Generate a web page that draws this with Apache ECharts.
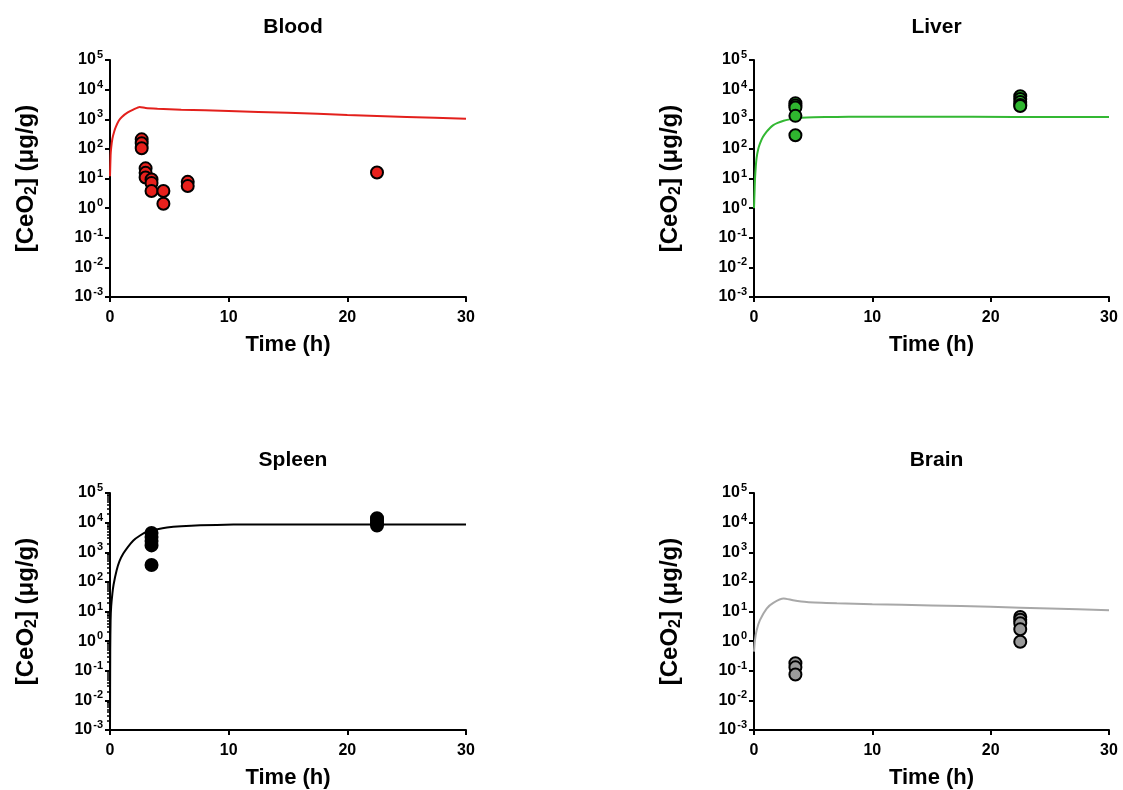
<!DOCTYPE html>
<html>
<head>
<meta charset="utf-8">
<script src="https://cdn.jsdelivr.net/npm/echarts@6/dist/echarts.min.js"></script>
<style>
html,body{margin:0;padding:0;background:#fff;}
#chart{width:1123px;height:790px;}
</style>
</head>
<body>
<div id="chart"></div>
<script>
// ---- Data ----
const panelTitles = ['Blood', 'Liver', 'Spleen', 'Brain'];
const xTicks = [0, 10, 20, 30];

// Model curves (time h, concentration µg/g)
const bloodLineT = [0, 0.05, 0.1, 0.2, 0.35, 0.5, 0.75, 1.0, 1.5, 2.0, 2.5, 3.0, 4.0, 6, 10, 15, 20, 25, 30];
const bloodLineV = [12, 60, 110, 220, 380, 560, 900, 1200, 1700, 2150, 2600, 2380, 2250, 2100, 1900, 1650, 1400, 1200, 1030];

const liverLineT = [0, 0.04, 0.08, 0.15, 0.22, 0.35, 0.5, 0.75, 1.07, 1.35, 1.63, 2.0, 2.5, 3.0, 3.5, 4.45, 6, 8, 15, 22, 30];
const liverLineV = [1, 3, 9, 25, 50, 95, 150, 250, 380, 510, 630, 750, 890, 990, 1070, 1150, 1190, 1210, 1210, 1200, 1190];

const spleenLineT = [0, 0.02, 0.05, 0.1, 0.2, 0.3, 0.56, 0.8, 1.12, 1.5, 1.97, 2.5, 3.1, 4.0, 4.8, 6, 7.6, 10.4, 15, 22, 30];
const spleenLineV = [0.001, 0.5, 5, 15, 40, 80, 245, 500, 900, 1500, 2500, 3600, 4900, 6000, 6800, 7500, 8100, 8600, 8700, 8650, 8600];

const brainLineT = [0, 0.08, 0.22, 0.5, 1.07, 1.63, 2.5, 3.3, 4.45, 7, 10, 15, 20, 25, 30];
const brainLineV = [0.44, 1.07, 2.3, 5.1, 12.6, 19.6, 27.5, 24, 21, 19, 17.6, 16, 14.4, 12.6, 11];

// Measured data (time h, concentration µg/g)
const bloodPtT = [2.67, 2.67, 2.67, 3.0, 3.0, 3.0, 3.5, 3.5, 3.5, 4.5, 4.5, 6.55, 6.55, 22.5];
const bloodPtV = [210, 155, 105, 22, 15.5, 10.8, 9.3, 7.1, 3.8, 3.8, 1.4, 7.7, 5.6, 16];

const liverPtT = [3.5, 3.5, 3.5, 3.5, 3.5, 22.5, 22.5, 22.5, 22.5, 22.5];
const liverPtV = [3500, 2900, 2500, 1300, 290, 6000, 4800, 3800, 3000, 2800];

const spleenPtT = [3.5, 3.5, 3.5, 3.5, 3.5, 22.5, 22.5, 22.5, 22.5];
const spleenPtV = [4500, 3300, 2400, 1700, 370, 14000, 12000, 9500, 8000];

const brainPtT = [3.5, 3.5, 3.5, 22.5, 22.5, 22.5, 22.5, 22.5];
const brainPtV = [0.18, 0.13, 0.075, 6.5, 5.3, 4.0, 2.5, 0.95];

// ---- Build ----
const zip = (a, b) => a.map((v, i) => [v, b[i]]);
const FONT = '"Liberation Sans", Arial, sans-serif';

const panels = [
  {title: panelTitles[0], lt: bloodLineT, lv: bloodLineV, pt: bloodPtT, pv: bloodPtV, line: '#e3201c', fill: '#e8201c', grid: {left: 110, top: 60, width: 356, height: 237}, minor: false},
  {title: panelTitles[1], lt: liverLineT, lv: liverLineV, pt: liverPtT, pv: liverPtV, line: '#33b833', fill: '#2fb52f', grid: {left: 754, top: 60, width: 355, height: 237}, minor: false},
  {title: panelTitles[2], lt: spleenLineT, lv: spleenLineV, pt: spleenPtT, pv: spleenPtV, line: '#000000', fill: '#000000', grid: {left: 110, top: 493, width: 356, height: 237}, minor: true},
  {title: panelTitles[3], lt: brainLineT, lv: brainLineV, pt: brainPtT, pv: brainPtV, line: '#a8a8a8', fill: '#9a9a9a', grid: {left: 754, top: 493, width: 355, height: 237}, minor: false}
];

const option = {
  animation: false,
  backgroundColor: '#fff',
  title: panels.map(p => ({
    text: p.title,
    left: p.grid.left + p.grid.width / 2,
    top: p.grid.top - 48,
    textAlign: 'center',
    textStyle: {fontFamily: FONT, fontWeight: 'bold', fontSize: 21, color: '#000'}
  })),
  grid: panels.map(p => Object.assign({containLabel: false}, p.grid)),
  xAxis: panels.map((p, i) => ({
    gridIndex: i, type: 'value', min: 0, max: 30, interval: 10,
    name: 'Time (h)', nameLocation: 'middle', nameGap: 37,
    nameTextStyle: {fontFamily: FONT, fontWeight: 'bold', fontSize: 22, color: '#000'},
    axisLine: {lineStyle: {color: '#000', width: 2}},
    axisTick: {length: 5, lineStyle: {color: '#000', width: 2}},
    axisLabel: {fontFamily: FONT, fontWeight: 'bold', fontSize: 16, color: '#000', margin: 13},
    splitLine: {show: false}
  })),
  yAxis: panels.map((p, i) => ({
    gridIndex: i, type: 'log', logBase: 10, min: 0.001, max: 100000, splitNumber: 8,
    name: '{a|[CeO}{s|2}{a|] (μg/g)}', nameLocation: 'middle', nameGap: 70,
    nameTextStyle: {
      fontFamily: FONT, fontWeight: 'bold', fontSize: 24, color: '#000',
      rich: {
        a: {fontFamily: FONT, fontWeight: 'bold', fontSize: 24, color: '#000'},
        s: {fontFamily: FONT, fontWeight: 'bold', fontSize: 16, color: '#000', padding: [12, 0, 0, 0]}
      }
    },
    axisLine: {show: true, lineStyle: {color: '#000', width: 2}},
    axisTick: {show: true, length: 5, lineStyle: {color: '#000', width: 2}},
    minorTick: {show: p.minor, splitNumber: 9, length: 3, lineStyle: {color: '#000', width: 1.5}},
    axisLabel: {
      margin: 7,
      formatter: (v) => {
        const e = Math.round(Math.log10(v));
        return '{b|10}{s|' + String(e) + '}';
      },
      rich: {
        b: {fontFamily: FONT, fontWeight: 'bold', fontSize: 16, color: '#000'},
        s: {fontFamily: FONT, fontWeight: 'bold', fontSize: 11, color: '#000', padding: [0, 0, 10, 1]}
      }
    },
    splitLine: {show: false}
  })),
  series: panels.flatMap((p, i) => ([
    {
      type: 'line', xAxisIndex: i, yAxisIndex: i, data: zip(p.lt, p.lv),
      showSymbol: false, smooth: 0.2, lineStyle: {color: p.line, width: 2}, z: 2
    },
    {
      type: 'scatter', xAxisIndex: i, yAxisIndex: i, data: zip(p.pt, p.pv),
      symbol: 'circle', symbolSize: 12,
      itemStyle: {color: p.fill, borderColor: '#000', borderWidth: 2, opacity: 1}, z: 3
    }
  ]))
};

const chart = echarts.init(document.getElementById('chart'), null, {renderer: 'canvas'});
chart.setOption(option);
</script>
</body>
</html>
